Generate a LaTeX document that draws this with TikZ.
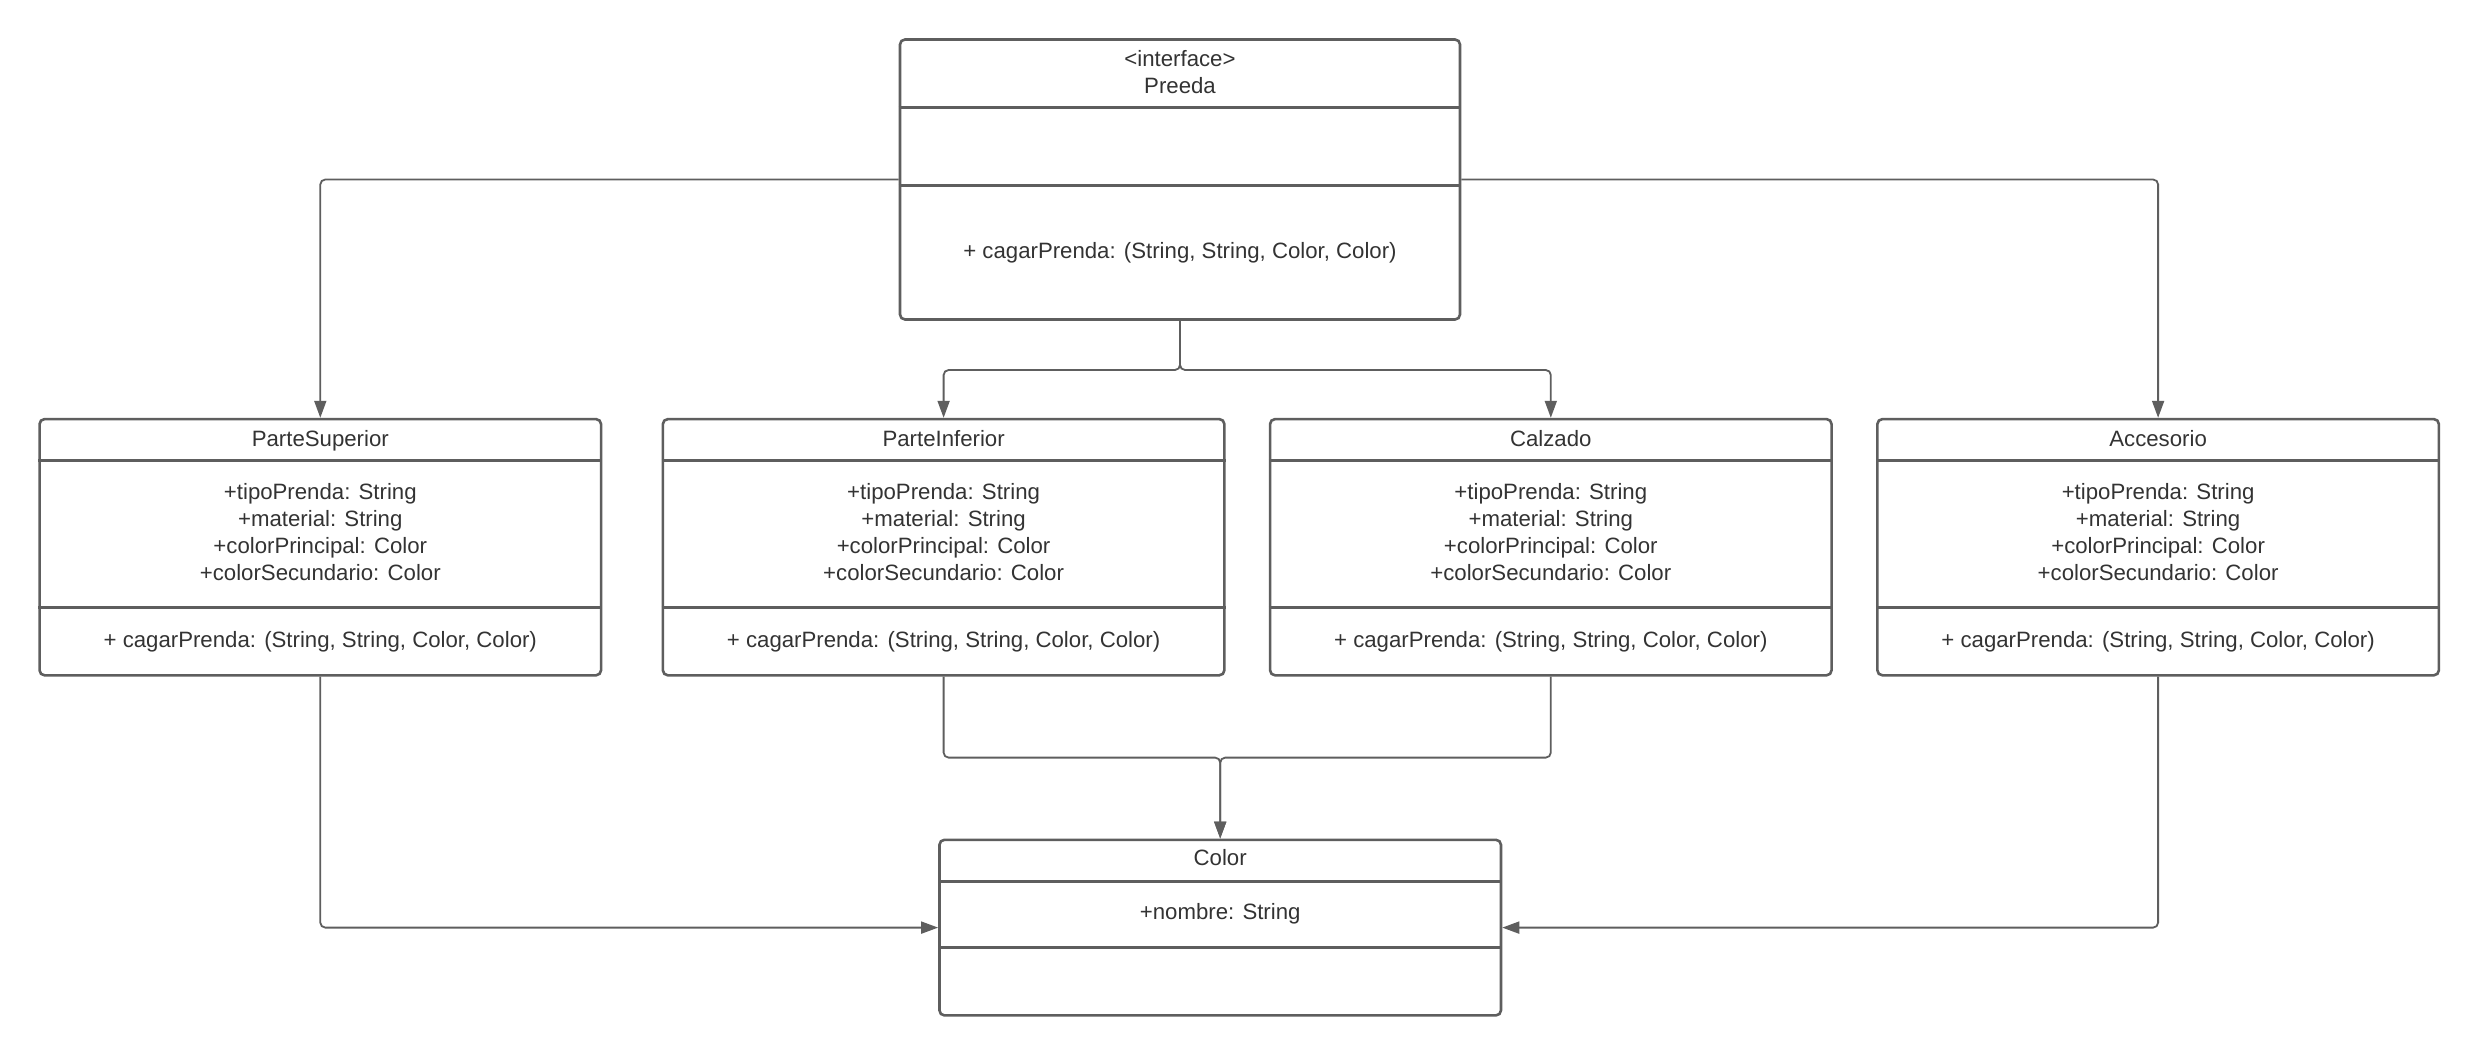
\documentclass[tikz,border=0pt]{standalone}
\usepackage{fontspec}
\setmainfont{Liberation Sans}
\usetikzlibrary{arrows.meta}
\definecolor{umlline}{HTML}{5E5E5E}
\definecolor{umltext}{HTML}{333333}
% two compartment separators, given as distances below the top edge
\newcommand{\compsep}[3]{%
  \draw[divider] ([yshift=-#2pt]#1.north west) -- ([yshift=-#2pt]#1.north east);
  \draw[divider] ([yshift=-#3pt]#1.north west) -- ([yshift=-#3pt]#1.north east);}
\begin{document}
\begin{tikzpicture}[x=1pt,y=-1pt,
  umlbox/.style={draw=umlline, line width=2.6pt, rounded corners=5pt, fill=white, inner sep=0pt},
  divider/.style={draw=umlline, line width=2.6pt},
  lbl/.style={text=umltext, font=\fontsize{22.2}{26.9}\selectfont, align=center, inner sep=0pt},
  oneline/.style={lbl, text height=16pt, text depth=0pt},
  link/.style={draw=umlline, line width=1.8pt, rounded corners=5pt, -{Triangle[length=17pt,width=12pt]}},
]
\useasboundingbox[fill=white] (0,0) rectangle (2480,1057);

% interface
\node[umlbox, minimum width=560pt, minimum height=280pt] (preeda) at (1180,179.5) {};
\compsep{preeda}{69.5}{147.1}
\node[lbl] (preedaname) at (1180,72) {<interface>\\Preeda};
\node[oneline] (preedaop) at (1180,250) {+ cagarPrenda: (String, String, Color, Color)};

% garment classes
\foreach \nm/\cx/\title in {ps/320.3/ParteSuperior, pi/943.6/ParteInferior, cal/1550.8/Calzado, acc/2158.1/Accesorio}{
  \node[umlbox, minimum width=561.5pt, minimum height=256.2pt] (\nm) at (\cx,547.2) {};
  \compsep{\nm}{42.7}{189.8}
  \node[oneline] (\nm-title) at (\cx,438) {\title};
  \node[lbl] (\nm-attr) at (\cx,532.2) {+tipoPrenda: String\\+material: String\\+colorPrincipal: Color\\+colorSecundario: Color};
  \node[oneline] (\nm-op) at (\cx,639.5) {+ cagarPrenda: (String, String, Color, Color)};
}

% Color class
\node[umlbox, minimum width=561.5pt, minimum height=175.6pt] (color) at (1220.2,927.6) {};
\compsep{color}{42.7}{109.2}
\node[oneline] (color-title) at (1220.2,857.5) {Color};
\node[oneline] (color-attr) at (1220.2,911.5) {+nombre: String};

% connectors
\coordinate (split) at (1180,370);
\coordinate (merge) at (1220.2,757.6);
\draw[link] (preeda.west) -| (ps.north);
\draw[link] (preeda.east) -| (acc.north);
\draw[link] (preeda.south) -- (split) -| (pi.north);
\draw[link] (preeda.south) -- (split) -| (cal.north);
\draw[link] (pi.south) |- (merge) -- (color.north);
\draw[link] (cal.south) |- (merge) -- (color.north);
\draw[link] (ps.south) |- (color.west);
\draw[link] (acc.south) |- (color.east);
\end{tikzpicture}
\end{document}
